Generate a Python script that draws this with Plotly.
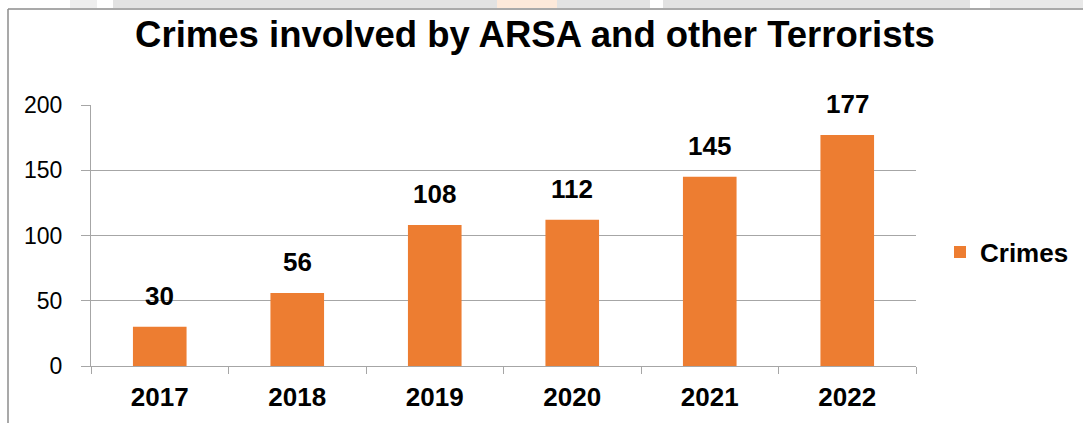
import plotly.graph_objects as go

years = ["2017", "2018", "2019", "2020", "2021", "2022"]
crimes = [30, 56, 108, 112, 145, 177]
y_ticks = [0, 50, 100, 150, 200]

W, H = 1083, 423
ML, MR, MT, MB = 91, 167, 105, 57
PW = W - ML - MR
PH = H - MT - MB

ORANGE = "#ED7D31"
GRID = "#a6a6a6"
FONT = "Liberation Sans, Arial, sans-serif"

fig = go.Figure()
fig.add_trace(go.Bar(
    x=years, y=crimes, name="Crimes",
    marker=dict(color=ORANGE, line=dict(width=0)),
    hoverinfo="skip",
))

annotations = []
for i, v in enumerate(crimes):
    annotations.append(dict(
        x=i, y=v, xref="x", yref="y", text=str(v), showarrow=False,
        yanchor="bottom", yshift=14,
        font=dict(family=FONT, size=26, color="#000000", weight="bold"),
    ))

def px_x(p):
    return (p - ML) / PW

def px_y(p):
    return (H - MB - p) / PH

shapes = [
    dict(type="line", xref="paper", yref="paper",
         x0=px_x(8), x1=px_x(8), y0=px_y(9), y1=px_y(H + 5),
         line=dict(color="#8c8c8c", width=1.5)),
    dict(type="line", xref="paper", yref="paper",
         x0=px_x(8), x1=px_x(W + 5), y0=px_y(9), y1=px_y(9),
         line=dict(color="#8c8c8c", width=1.5)),
]
for x0, x1, c in [(70, 97, "#eeeeee"), (113, 497, "#e2e2e2"), (497, 557, "#fde9da"),
                  (557, 650, "#e2e2e2"), (663, 970, "#e2e2e2"), (990, 1083, "#e8e8e8")]:
    shapes.append(dict(type="rect", xref="paper", yref="paper",
                       x0=px_x(x0), x1=px_x(x1), y0=px_y(8), y1=px_y(0),
                       line=dict(width=0), fillcolor=c, layer="below"))

fig.update_layout(
    width=W, height=H,
    margin=dict(l=ML, r=MR, t=MT, b=MB, pad=0, autoexpand=False),
    paper_bgcolor="white", plot_bgcolor="white",
    bargap=0.61,
    title=dict(text="Crimes involved by ARSA and other Terrorists",
               x=535 / W, xref="container", xanchor="center",
               y=(H - 34) / H, yref="container", yanchor="middle",
               font=dict(family=FONT, size=36.5, color="#000000", weight="bold")),
    showlegend=True,
    legend=dict(x=px_x(940), y=px_y(252), xanchor="left", yanchor="middle",
                font=dict(family=FONT, size=26, color="#000000", weight="bold"),
                bgcolor="rgba(0,0,0,0)"),
    annotations=annotations,
    shapes=shapes,
    xaxis=dict(type="category", range=[-0.5, len(years) - 0.5],
               tickson="boundaries", ticks="outside", ticklen=7,
               tickcolor=GRID, tickwidth=1, showline=True, linecolor=GRID, linewidth=1,
               showgrid=False, zeroline=False, ticklabelstandoff=8,
               tickfont=dict(family=FONT, size=26, color="#000000", weight="bold")),
    yaxis=dict(range=[0, 200], tickvals=y_ticks, ticks="outside", ticklen=9,
               tickcolor=GRID, tickwidth=1, showline=True, linecolor=GRID, linewidth=1,
               showgrid=True, gridcolor=GRID, gridwidth=1, zeroline=False,
               ticklabelstandoff=14,
               tickfont=dict(family=FONT, size=23, color="#000000")),
)

fig.write_html("out.html")
